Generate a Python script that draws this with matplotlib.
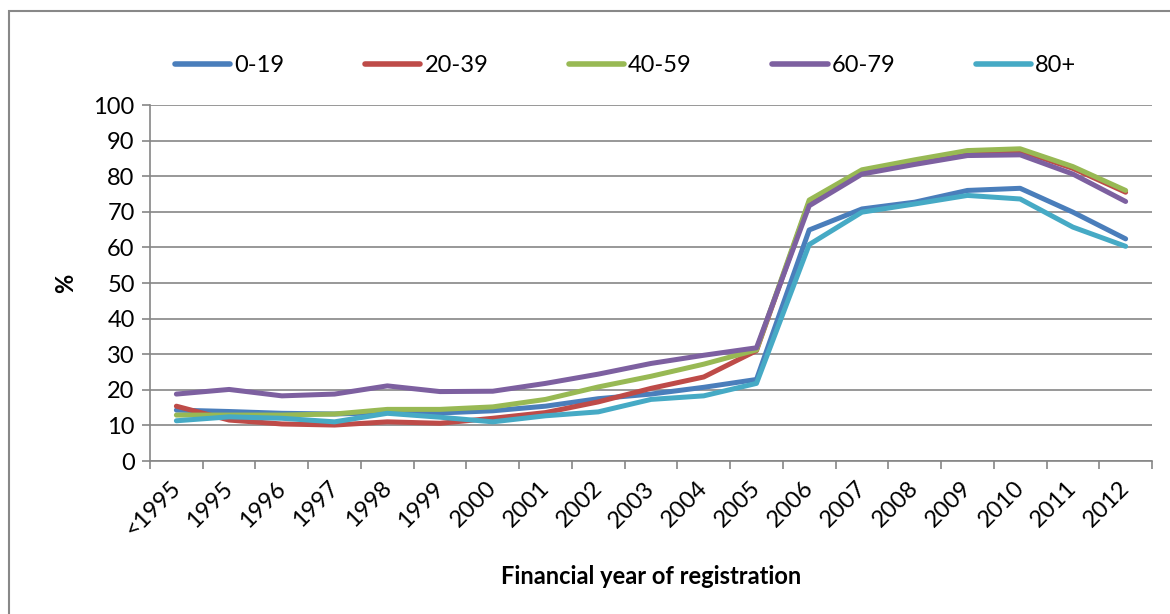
import matplotlib
matplotlib.use("Agg")
import matplotlib.pyplot as plt
import matplotlib.transforms as mtransforms
import numpy as np
from matplotlib.patches import Rectangle

plt.rcParams['font.family'] = ['Lato', 'DejaVu Sans']

categories = ['<1995', '1995', '1996', '1997', '1998', '1999', '2000', '2001', '2002',
              '2003', '2004', '2005', '2006', '2007', '2008', '2009', '2010', '2011', '2012']

age_0_19 = [14.3, 13.9, 13.4, 13.2, 13.6, 13.5, 14.1, 15.4, 17.5, 18.8, 20.7, 22.9,
            64.9, 70.8, 72.7, 76.0, 76.6, 69.9, 62.4]
age_20_39 = [15.4, 11.5, 10.4, 10.1, 11.0, 10.6, 12.0, 13.6, 16.6, 20.4, 23.6, 31.0,
             72.8, 81.4, 84.2, 86.8, 87.2, 82.2, 75.5]
age_40_59 = [12.9, 12.9, 12.9, 13.2, 14.5, 14.5, 15.2, 17.3, 20.8, 23.8, 27.2, 31.2,
             73.3, 81.8, 84.6, 87.2, 87.7, 82.7, 76.0]
age_60_79 = [18.8, 20.1, 18.3, 18.8, 21.1, 19.5, 19.6, 21.8, 24.4, 27.4, 29.7, 31.8,
             71.7, 80.6, 83.3, 85.8, 86.0, 80.6, 72.9]
age_80_plus = [11.3, 12.4, 12.0, 11.0, 13.4, 12.3, 11.0, 12.7, 13.8, 17.3, 18.3, 21.8,
               60.8, 69.9, 72.2, 74.6, 73.6, 65.7, 60.3]

series_names = ['0-19', '20-39', '40-59', '60-79', '80+']
series_values = [age_0_19, age_20_39, age_40_59, age_60_79, age_80_plus]
series_colors = ['#4A7EBB', '#BE4B48', '#98B954', '#7D60A0', '#46AAC5']

FS = 17
W, H = 1170, 614
fig = plt.figure(figsize=(W / 100, H / 100), dpi=100)
fig.patch.set_facecolor('white')

# outer chart border (partially cut off at right and bottom)
fig.patches.append(Rectangle((9 / W, -0.05), 1.2, 1 - 11 / H + 0.05,
                             transform=fig.transFigure, fill=False,
                             edgecolor='#888888', linewidth=1.5, clip_on=False))

left, right, top, bottom = 150, 1152, 105, 461
ax = fig.add_axes([left / W, 1 - bottom / H, (right - left) / W, (bottom - top) / H])

x = np.arange(len(categories))
for name, vals, col in zip(series_names, series_values, series_colors):
    ax.plot(x, vals, color=col, lw=3.6, label=name,
            solid_capstyle='round', solid_joinstyle='round', zorder=3)

ax.set_xlim(-0.5, len(categories) - 0.5)
ax.set_ylim(0, 100)
ax.set_yticks(np.arange(0, 101, 10))
ax.yaxis.grid(True, color='#868686', lw=1.2)
ax.set_axisbelow(True)

ax.set_xticks(x)
ax.set_xticklabels(categories, rotation=45, ha='right', rotation_mode='default')
ax.set_xticks(np.arange(-0.5, len(categories), 1), minor=True)
ax.tick_params(axis='x', which='major', length=0, pad=12, labelsize=FS)
ax.tick_params(axis='x', which='minor', length=6, width=1.2, color='#868686')
ax.tick_params(axis='y', which='major', length=6, width=1.2, color='#868686',
               labelsize=FS, pad=5)
shift = mtransforms.ScaledTranslation(8 / 100, 0, fig.dpi_scale_trans)
for lbl in ax.get_xticklabels():
    lbl.set_transform(lbl.get_transform() + shift)

for s in ['top', 'right']:
    ax.spines[s].set_visible(False)
for s in ['left', 'bottom']:
    ax.spines[s].set_color('#868686')
    ax.spines[s].set_linewidth(1.2)

ax.set_xlabel('Financial year of registration', fontsize=FS, fontweight='bold', labelpad=17)
ax.set_ylabel('%', fontsize=FS, fontweight='bold', labelpad=12)

leg = fig.legend(loc='center left', bbox_to_anchor=(175 / W, 1 - 66 / H), ncol=5,
                 frameon=False, fontsize=FS, handlelength=2.35, handletextpad=0.17,
                 columnspacing=3.4, borderaxespad=0, borderpad=0)
for h in leg.get_lines():
    h.set_linewidth(4)
    h.set_solid_capstyle('round')

fig.savefig('out.png', dpi=100)
